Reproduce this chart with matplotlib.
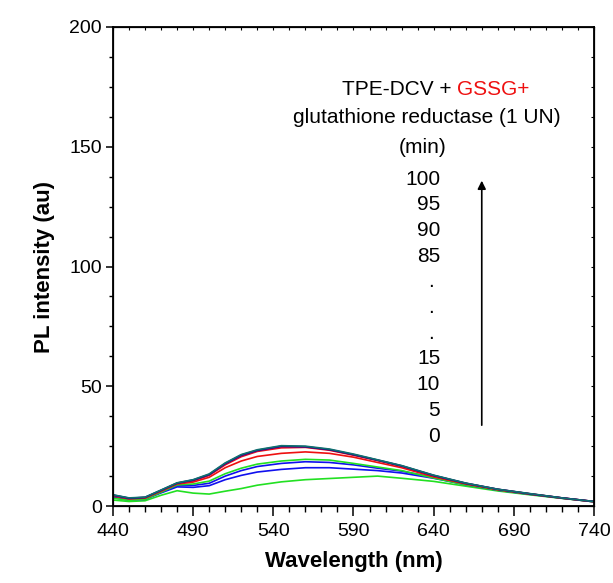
import matplotlib.pyplot as plt
from matplotlib.ticker import MultipleLocator

plt.rcParams['font.family'] = ['Liberation Sans', 'DejaVu Sans']

# wavelength grid (nm)
wl = [440, 450, 460, 470, 480, 490, 500, 510, 520, 530, 545, 560, 575, 590, 605, 620, 640, 660, 680, 700, 720, 740]

# PL intensity (au), one list per time point
t0 = [2.5, 1.9, 2.2, 4.5, 6.4, 5.4, 5.0, 6.2, 7.3, 8.7, 10.1, 11.0, 11.5, 12.0, 12.5, 11.6, 10.3, 8.3, 6.3, 4.7, 3.2, 1.8]
t5 = [3.5, 2.5, 2.8, 5.5, 8.0, 7.8, 8.5, 11.0, 12.8, 14.2, 15.3, 16.0, 16.0, 15.4, 14.8, 13.8, 11.6, 8.9, 6.6, 4.9, 3.3, 1.8]
t10 = [3.8, 2.7, 3.0, 5.8, 8.5, 8.6, 9.5, 12.5, 14.8, 16.5, 17.8, 18.5, 18.2, 17.2, 15.8, 14.6, 11.9, 9.0, 6.7, 5.0, 3.3, 1.8]
t15 = [3.3, 2.4, 2.8, 5.8, 8.8, 9.2, 10.4, 13.5, 15.8, 17.5, 18.8, 19.5, 19.2, 17.8, 16.3, 14.8, 11.7, 8.9, 6.6, 4.9, 3.3, 1.8]
t20 = [4.2, 3.0, 3.3, 6.2, 9.2, 10.0, 12.0, 16.0, 18.8, 20.7, 22.0, 22.6, 22.0, 20.4, 18.2, 16.0, 12.2, 9.2, 6.8, 5.0, 3.3, 1.8]
t25 = [4.4, 3.2, 3.5, 6.4, 9.4, 10.5, 12.8, 17.2, 20.6, 22.8, 24.3, 24.5, 23.3, 21.2, 19.0, 16.6, 12.6, 9.4, 6.9, 5.1, 3.4, 1.9]
t50 = [4.5, 3.2, 3.6, 6.5, 9.5, 10.7, 13.0, 17.6, 21.0, 23.1, 24.8, 24.7, 23.5, 21.4, 19.1, 16.7, 12.7, 9.5, 7.0, 5.1, 3.4, 1.9]
t75 = [4.6, 3.3, 3.6, 6.6, 9.6, 10.9, 13.2, 17.8, 21.3, 23.3, 25.0, 24.8, 23.6, 21.5, 19.2, 16.8, 12.8, 9.5, 7.0, 5.1, 3.4, 1.9]
t100 = [4.7, 3.4, 3.7, 6.7, 9.7, 11.0, 13.4, 18.0, 21.5, 23.5, 25.2, 25.0, 23.8, 21.7, 19.3, 16.9, 12.9, 9.6, 7.0, 5.2, 3.4, 1.9]

series = [t0, t5, t10, t15, t20, t25, t50, t75, t100]
colors = ['#22e022', '#1010ee', '#1010ee', '#22e022', '#ee1010', '#ee1010', '#800080', '#101080', '#107070']

xticks = [440, 490, 540, 590, 640, 690, 740]
time_labels = ['100', '95', '90', '85', '.', '.', '.', '15', '10', '5', '0']

fig = plt.figure(figsize=(6.13, 5.83), dpi=100)
ax = fig.add_axes([0.1843, 0.132, 0.7847, 0.8217])

for y, c in zip(series, colors):
    ax.plot(wl, y, color=c, lw=1.2)

ax.set_xlim(440, 740)
ax.set_ylim(0, 200)
ax.set_xticks(xticks)
ax.xaxis.set_minor_locator(MultipleLocator(10))
ax.yaxis.set_major_locator(MultipleLocator(50))
ax.yaxis.set_minor_locator(MultipleLocator(12.5))
ax.tick_params(axis='x', which='major', direction='out', length=7, width=1.1, labelsize=14, pad=5)
ax.tick_params(axis='x', which='minor', direction='out', length=4.5, width=1.0)
ax.tick_params(axis='y', which='major', direction='out', length=5, width=1.1, labelsize=14, pad=3)
ax.tick_params(axis='y', which='minor', direction='out', length=3, width=1.0)
for s in ax.spines.values():
    s.set_linewidth(1.3)

# inward ticks on top and right
axt = ax.twiny()
axt.set_xlim(440, 740)
axt.xaxis.set_major_locator(MultipleLocator(10))
axt.tick_params(axis='x', direction='in', length=2, width=0.8, labeltop=False)
axr = ax.twinx()
axr.set_ylim(0, 200)
axr.yaxis.set_major_locator(MultipleLocator(12.5))
axr.tick_params(axis='y', direction='in', length=2, width=0.8, labelright=False)

ax.set_xlabel('Wavelength (nm)', fontsize=16, fontweight='bold', labelpad=8)
ax.set_ylabel('PL intensity (au)', fontsize=16, fontweight='bold', labelpad=10)

ax.text(654.7, 173.7, 'TPE-DCV + ', fontsize=15, ha='right', va='center')
ax.text(654.7, 173.7, 'GSSG+', fontsize=15, ha='left', va='center', color='#ee1010')
ax.text(636, 162.4, 'glutathione reductase (1 UN)', fontsize=15, ha='center', va='center')
ax.text(633, 149.5, '(min)', fontsize=15, ha='center', va='center')

ypos = 136.5
for lab in time_labels:
    if lab == '.':
        ax.text(638.5, ypos, lab, fontsize=15, ha='center', va='center')
    else:
        ax.text(644.1, ypos, lab, fontsize=15, ha='right', va='center')
    ypos -= 10.73

ax.annotate('', xy=(670, 137), xytext=(670, 32.6),
            arrowprops=dict(arrowstyle='-|>', lw=1.2, color='black', mutation_scale=12))

plt.savefig('out.png', dpi=100)
